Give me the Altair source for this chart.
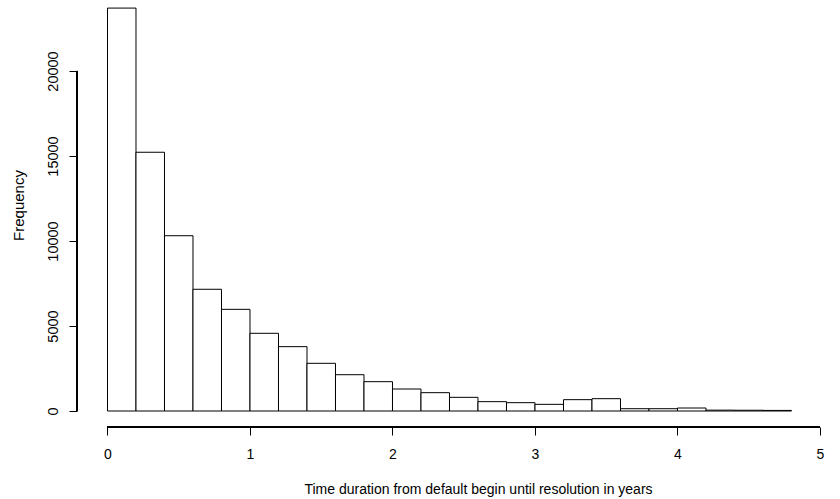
import altair as alt
import pandas as pd

# Histogram bin edges (years) and counts
bin_start = [0.0, 0.2, 0.4, 0.6, 0.8, 1.0, 1.2, 1.4, 1.6, 1.8, 2.0, 2.2,
             2.4, 2.6, 2.8, 3.0, 3.2, 3.4, 3.6, 3.8, 4.0, 4.2, 4.4, 4.6]
bin_end = [0.2, 0.4, 0.6, 0.8, 1.0, 1.2, 1.4, 1.6, 1.8, 2.0, 2.2, 2.4,
           2.6, 2.8, 3.0, 3.2, 3.4, 3.6, 3.8, 4.0, 4.2, 4.4, 4.6, 4.8]
counts = [23700, 15220, 10310, 7160, 5980, 4570, 3785, 2805, 2135, 1725, 1294, 1078,
          804, 549, 490, 392, 667, 725, 135, 135, 176, 50, 45, 35]

x_ticks = [0, 1, 2, 3, 4, 5]
y_ticks = [0, 5000, 10000, 15000, 20000]
x_title = "Time duration from default begin until resolution in years"
y_title = "Frequency"

df = pd.DataFrame({"start": bin_start, "end": bin_end, "count": counts})

FONT = "Liberation Sans"
W, H = 743, 427

x_scale = alt.Scale(domain=[-0.214, 5.0], nice=False, zero=False)
y_scale = alt.Scale(domain=[-941, 24176], nice=False, zero=False)

bars = alt.Chart(df).mark_bar(
    fill="white", stroke="black", strokeWidth=1, opacity=1
).encode(
    x=alt.X("start:Q", scale=x_scale,
            axis=alt.Axis(values=x_ticks, title=x_title, domain=False, grid=False,
                          tickSize=8, tickColor="black", tickWidth=1,
                          labelFont=FONT, labelFontSize=14, labelColor="black",
                          labelBaseline="alphabetic", labelPadding=23, labelAlign="center",
                          labelFlush=False, labelOverlap=False, format="d",
                          titleFont=FONT, titleFontSize=14, titleFontWeight="normal",
                          titleColor="black", titleAlign="center", titleBaseline="alphabetic",
                          titleX=401, titleY=66)),
    x2="end:Q",
    y=alt.Y("count:Q", scale=y_scale,
            axis=alt.Axis(values=y_ticks, title=y_title, domain=False, grid=False,
                          tickSize=8, tickColor="black", tickWidth=1,
                          labelFont=FONT, labelFontSize=14.5, labelColor="black",
                          labelAngle=270, labelAlign="center", labelBaseline="alphabetic",
                          labelPadding=12, labelFlush=False, labelOverlap=False, format="d",
                          titleFont=FONT, titleFontSize=15, titleFontWeight="normal",
                          titleColor="black", titleAngle=270, titleAlign="center",
                          titleBaseline="alphabetic", titleX=-54, titleY=205)),
    y2=alt.datum(0),
)

y_line = alt.Chart(df).mark_rule(color="black", strokeWidth=1).encode(
    x=alt.value(0),
    y=alt.datum(y_ticks[0]),
    y2=alt.datum(y_ticks[-1]),
)

x_line = alt.Chart(df).mark_rule(color="black", strokeWidth=1).encode(
    x=alt.datum(x_ticks[0]),
    x2=alt.datum(x_ticks[-1]),
    y=alt.value(H),
)

chart = alt.layer(bars, y_line, x_line).properties(
    width=W, height=H,
    padding={"left": 77, "top": 0, "right": 20, "bottom": 72},
    autosize=alt.AutoSizeParams(type="none"),
    background="white",
).configure_view(strokeWidth=0)

chart.save("out.html", embed_options={"renderer": "svg", "actions": False})
